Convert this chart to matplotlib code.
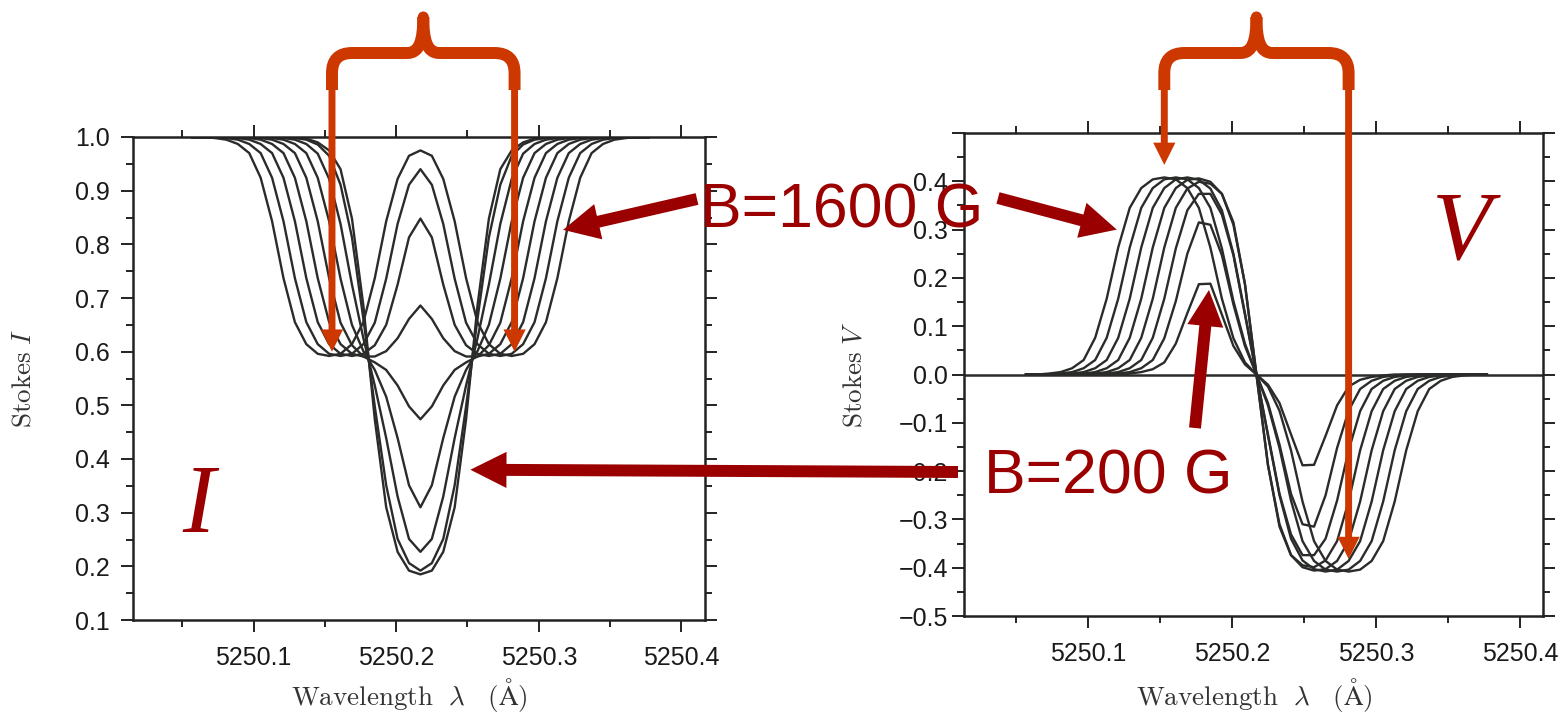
import matplotlib
matplotlib.use('Agg')
import matplotlib.pyplot as plt
from matplotlib.patches import PathPatch, Circle
from matplotlib.path import Path
from matplotlib.ticker import FixedLocator, FixedFormatter

plt.rcParams['mathtext.fontset'] = 'cm'
plt.rcParams['font.family'] = ['Liberation Sans', 'DejaVu Sans']

# wavelength grid (Angstrom) shared by all profiles
wavelength = [5250.057, 5250.065, 5250.073, 5250.081, 5250.089, 5250.097, 5250.105,
              5250.113, 5250.121, 5250.129, 5250.137, 5250.145, 5250.153, 5250.161,
              5250.169, 5250.177, 5250.185, 5250.193, 5250.201, 5250.209, 5250.217,
              5250.225, 5250.233, 5250.241, 5250.249, 5250.257, 5250.265, 5250.273,
              5250.281, 5250.289, 5250.297, 5250.305, 5250.313, 5250.321, 5250.329,
              5250.337, 5250.345, 5250.353, 5250.361, 5250.369, 5250.377]

field_strengths = [0, 200, 400, 600, 800, 1000, 1200, 1400, 1600]

# Stokes I, one list per field strength
i_b0 = [1.0, 1.0, 1.0, 1.0, 1.0, 1.0, 1.0, 1.0, 1.0, 0.999, 0.997, 0.990, 0.975, 0.940,
        0.848, 0.686, 0.474, 0.310, 0.227, 0.192, 0.185, 0.192, 0.227, 0.310, 0.474,
        0.686, 0.848, 0.940, 0.975, 0.990, 0.997, 0.999, 1.0, 1.0, 1.0, 1.0, 1.0, 1.0,
        1.0, 1.0, 1.0]
i_b200 = [1.0, 1.0, 1.0, 1.0, 1.0, 1.0, 1.0, 1.0, 1.0, 0.998, 0.995, 0.986, 0.965, 0.911,
          0.813, 0.661, 0.498, 0.351, 0.251, 0.206, 0.192, 0.206, 0.251, 0.351, 0.498,
          0.661, 0.813, 0.911, 0.965, 0.986, 0.995, 0.998, 1.0, 1.0, 1.0, 1.0, 1.0, 1.0,
          1.0, 1.0, 1.0]
i_b400 = [1.0, 1.0, 1.0, 1.0, 1.0, 1.0, 1.0, 1.0, 0.998, 0.995, 0.987, 0.969, 0.922, 0.838,
          0.725, 0.625, 0.537, 0.439, 0.330, 0.251, 0.227, 0.251, 0.330, 0.439, 0.537,
          0.625, 0.725, 0.838, 0.922, 0.969, 0.987, 0.995, 0.998, 1.0, 1.0, 1.0, 1.0, 1.0,
          1.0, 1.0, 1.0]
i_b600 = [1.0, 1.0, 1.0, 1.0, 1.0, 1.0, 1.0, 0.998, 0.995, 0.987, 0.970, 0.924, 0.843, 0.736,
          0.650, 0.601, 0.566, 0.516, 0.439, 0.351, 0.310, 0.351, 0.439, 0.516, 0.566,
          0.601, 0.650, 0.736, 0.843, 0.924, 0.970, 0.987, 0.995, 0.998, 1.0, 1.0, 1.0,
          1.0, 1.0, 1.0, 1.0]
i_b800 = [1.0, 1.0, 1.0, 1.0, 1.0, 1.0, 0.998, 0.995, 0.987, 0.970, 0.924, 0.843, 0.737, 0.654,
          0.612, 0.591, 0.580, 0.566, 0.537, 0.498, 0.474, 0.498, 0.537, 0.566, 0.580,
          0.591, 0.612, 0.654, 0.737, 0.843, 0.924, 0.970, 0.987, 0.995, 0.998, 1.0, 1.0,
          1.0, 1.0, 1.0, 1.0]
i_b1000 = [1.0, 1.0, 1.0, 1.0, 1.0, 0.998, 0.995, 0.987, 0.970, 0.924, 0.843, 0.737, 0.655,
           0.614, 0.596, 0.591, 0.591, 0.601, 0.625, 0.661, 0.686, 0.661, 0.625, 0.601,
           0.591, 0.591, 0.596, 0.614, 0.655, 0.737, 0.843, 0.924, 0.970, 0.987, 0.995,
           0.998, 1.0, 1.0, 1.0, 1.0, 1.0]
i_b1200 = [1.0, 1.0, 1.0, 1.0, 0.998, 0.995, 0.987, 0.970, 0.924, 0.843, 0.737, 0.655, 0.614,
           0.596, 0.592, 0.596, 0.612, 0.650, 0.725, 0.813, 0.848, 0.813, 0.725, 0.650,
           0.612, 0.596, 0.592, 0.596, 0.614, 0.655, 0.737, 0.843, 0.924, 0.970, 0.987,
           0.995, 0.998, 1.0, 1.0, 1.0, 1.0]
i_b1400 = [1.0, 1.0, 1.0, 0.998, 0.995, 0.987, 0.970, 0.924, 0.843, 0.737, 0.655, 0.614, 0.596,
           0.592, 0.596, 0.614, 0.654, 0.736, 0.838, 0.911, 0.940, 0.911, 0.838, 0.736,
           0.654, 0.614, 0.596, 0.592, 0.596, 0.614, 0.655, 0.737, 0.843, 0.924, 0.970,
           0.987, 0.995, 0.998, 1.0, 1.0, 1.0]
i_b1600 = [1.0, 1.0, 0.998, 0.995, 0.987, 0.970, 0.924, 0.843, 0.737, 0.655, 0.614, 0.596,
           0.592, 0.596, 0.614, 0.655, 0.737, 0.843, 0.922, 0.965, 0.975, 0.965, 0.922,
           0.843, 0.737, 0.655, 0.614, 0.596, 0.592, 0.596, 0.614, 0.655, 0.737, 0.843,
           0.924, 0.970, 0.987, 0.995, 0.998, 1.0, 1.0]

# Stokes V, one list per non-zero field strength
v_b200 = [0.0, 0.0, 0.0, 0.0, 0.0, 0.0, 0.0, 0.0, 0.0, 0.002, 0.005, 0.011, 0.025, 0.064,
          0.127, 0.187, 0.188, 0.124, 0.059, 0.021, 0.0, -0.021, -0.059, -0.124, -0.188,
          -0.187, -0.127, -0.064, -0.025, -0.011, -0.005, -0.002, 0.0, 0.0, 0.0, 0.0, 0.0,
          0.0, 0.0, 0.0, 0.0]
v_b400 = [0.0, 0.0, 0.0, 0.0, 0.0, 0.0, 0.0, 0.0, 0.002, 0.005, 0.013, 0.030, 0.075, 0.152,
          0.250, 0.315, 0.310, 0.247, 0.145, 0.059, 0.0, -0.059, -0.145, -0.247, -0.310,
          -0.315, -0.250, -0.152, -0.075, -0.030, -0.013, -0.005, -0.002, 0.0, 0.0, 0.0,
          0.0, 0.0, 0.0, 0.0, 0.0]
v_b600 = [0.0, 0.0, 0.0, 0.0, 0.0, 0.0, 0.0, 0.002, 0.005, 0.013, 0.030, 0.076, 0.157, 0.261,
          0.340, 0.374, 0.374, 0.331, 0.247, 0.124, 0.0, -0.124, -0.247, -0.331, -0.374,
          -0.374, -0.340, -0.261, -0.157, -0.076, -0.030, -0.013, -0.005, -0.002, 0.0, 0.0,
          0.0, 0.0, 0.0, 0.0, 0.0]
v_b800 = [0.0, 0.0, 0.0, 0.0, 0.0, 0.0, 0.002, 0.005, 0.013, 0.030, 0.076, 0.157, 0.263, 0.345,
          0.385, 0.399, 0.395, 0.374, 0.310, 0.188, 0.0, -0.188, -0.310, -0.374, -0.395,
          -0.399, -0.385, -0.345, -0.263, -0.157, -0.076, -0.030, -0.013, -0.005, -0.002,
          0.0, 0.0, 0.0, 0.0, 0.0, 0.0]
v_b1000 = [0.0, 0.0, 0.0, 0.0, 0.0, 0.002, 0.005, 0.013, 0.030, 0.076, 0.157, 0.263, 0.345,
           0.386, 0.403, 0.406, 0.399, 0.374, 0.315, 0.187, 0.0, -0.187, -0.315, -0.374,
           -0.399, -0.406, -0.403, -0.386, -0.345, -0.263, -0.157, -0.076, -0.030, -0.013,
           -0.005, -0.002, 0.0, 0.0, 0.0, 0.0, 0.0]
v_b1200 = [0.0, 0.0, 0.0, 0.0, 0.002, 0.005, 0.013, 0.030, 0.076, 0.157, 0.263, 0.345, 0.386,
           0.404, 0.408, 0.403, 0.385, 0.340, 0.250, 0.127, 0.0, -0.127, -0.250, -0.340,
           -0.385, -0.403, -0.408, -0.404, -0.386, -0.345, -0.263, -0.157, -0.076, -0.030,
           -0.013, -0.005, -0.002, 0.0, 0.0, 0.0, 0.0]
v_b1400 = [0.0, 0.0, 0.0, 0.002, 0.005, 0.013, 0.030, 0.076, 0.157, 0.263, 0.345, 0.386, 0.404,
           0.408, 0.404, 0.386, 0.345, 0.261, 0.152, 0.064, 0.0, -0.064, -0.152, -0.261,
           -0.345, -0.386, -0.404, -0.408, -0.404, -0.386, -0.345, -0.263, -0.157, -0.076,
           -0.030, -0.013, -0.005, -0.002, 0.0, 0.0, 0.0]
v_b1600 = [0.0, 0.0, 0.002, 0.005, 0.013, 0.030, 0.076, 0.157, 0.263, 0.345, 0.386, 0.404,
           0.408, 0.404, 0.386, 0.345, 0.263, 0.157, 0.075, 0.025, 0.0, -0.025, -0.075,
           -0.157, -0.263, -0.345, -0.386, -0.404, -0.408, -0.404, -0.386, -0.345, -0.263,
           -0.157, -0.076, -0.030, -0.013, -0.005, -0.002, 0.0, 0.0]

stokes_i = [i_b0, i_b200, i_b400, i_b600, i_b800, i_b1000, i_b1200, i_b1400, i_b1600]
stokes_v = [v_b200, v_b400, v_b600, v_b800, v_b1000, v_b1200, v_b1400, v_b1600]

# sigma-component positions for the strongest field
sigma_blue = 5250.155
sigma_red = 5250.283

x_major = [5250.1, 5250.2, 5250.3, 5250.4]
x_minor = [5250.05, 5250.15, 5250.25, 5250.35]
i_major = [0.1, 0.2, 0.3, 0.4, 0.5, 0.6, 0.7, 0.8, 0.9, 1.0]
i_minor = [0.15, 0.25, 0.35, 0.45, 0.55, 0.65, 0.75, 0.85, 0.95]
v_major = [-0.5, -0.4, -0.3, -0.2, -0.1, 0.0, 0.1, 0.2, 0.3, 0.4, 0.5]
v_minor = [-0.45, -0.35, -0.25, -0.15, -0.05, 0.05, 0.15, 0.25, 0.35, 0.45]

W, H = 1565, 714
curve_col = '#2a2c2a'
orange = '#cd3700'
dark_red = '#9b0000'

fig = plt.figure(figsize=(W / 100, H / 100), dpi=100)
fig.patch.set_facecolor('white')

ax_i = fig.add_axes([133 / W, 1 - 620 / H, 572 / W, 483 / H])
ax_v = fig.add_axes([964 / W, 1 - 616 / H, 579 / W, 483 / H])

for prof in stokes_i:
    ax_i.plot(wavelength, prof, color=curve_col, lw=1.7)
ax_v.axhline(0.0, color=curve_col, lw=1.8)
for prof in stokes_v:
    ax_v.plot(wavelength, prof, color=curve_col, lw=1.7)

ax_i.set_xlim(5250.0155, 5250.4165)
ax_i.set_ylim(0.1, 1.0)
ax_v.set_xlim(5250.0139, 5250.416)
ax_v.set_ylim(-0.5, 0.5)


def fmt(vals):
    return ['%.1f' % v for v in vals]


for ax, ymaj, ymin in ((ax_i, i_major, i_minor), (ax_v, v_major, v_minor)):
    ax.xaxis.set_major_locator(FixedLocator(x_major))
    ax.xaxis.set_major_formatter(FixedFormatter(fmt(x_major)))
    ax.xaxis.set_minor_locator(FixedLocator(x_minor))
    ax.yaxis.set_major_locator(FixedLocator(ymaj))
    ax.yaxis.set_minor_locator(FixedLocator(ymin))
    ax.tick_params(which='both', direction='out', top=True, right=True,
                   width=1.4, color='#222222', labelsize=18, labelcolor='#1a1a1a')
    ax.tick_params(which='major', length=8.6)
    ax.tick_params(which='minor', length=5)
    ax.tick_params(axis='x', pad=10)
    for sp in ax.spines.values():
        sp.set_linewidth(1.8)
        sp.set_color('#222222')

ax_i.yaxis.set_major_formatter(FixedFormatter(fmt(i_major)))
ax_i.tick_params(axis='y', pad=8)
v_labels = ['\u2212%.1f' % -v if v < 0 else '%.1f' % v for v in v_major]
v_labels[-1] = ''
ax_v.yaxis.set_major_formatter(FixedFormatter(v_labels))
ax_v.tick_params(axis='y', pad=3)

label_kw = dict(fontsize=19.5, color='#333333')
xlab = r'$\mathrm{Wavelength}\ \ \lambda\ \ \ (\mathrm{\AA})$'
ax_i.set_xlabel(xlab, va='baseline', **label_kw)
ax_v.set_xlabel(xlab, va='baseline', **label_kw)
ax_i.set_ylabel(r'$\mathrm{Stokes}\ I$', **label_kw)
ax_v.set_ylabel(r'$\mathrm{Stokes}\ V$', **label_kw)
ax_i.xaxis.set_label_coords(0.483, -(705 - 620) / 483)
ax_v.xaxis.set_label_coords(0.502, -(705 - 616) / 483)
ax_i.yaxis.set_label_coords(-0.168, 0.5)
ax_v.yaxis.set_label_coords(-0.1675, 0.5)

# overlay in pixel units (y downwards) for the annotations
ov = fig.add_axes([0, 0, 1, 1], zorder=10)
ov.set_xlim(0, W)
ov.set_ylim(H, 0)
ov.axis('off')
ov.patch.set_alpha(0)


def px(ax, x, y):
    dx, dy = ax.transData.transform((x, y))
    return dx, H - dy


def brace(xl, xr, color):
    xc = (xl + xr) / 2
    y_end, y_bar, y_tip, r = 90, 53, 17, 20
    for x0, s in ((xl, 1), (xr, -1)):
        verts = [(x0, y_end), (x0, y_bar + r), (x0, y_bar), (x0 + s * r, y_bar),
                 (xc - s * 16, y_bar), (xc - s * 4, y_bar), (xc, y_bar - 12), (xc, y_tip)]
        codes = [Path.MOVETO, Path.LINETO, Path.CURVE3, Path.CURVE3,
                 Path.LINETO, Path.CURVE4, Path.CURVE4, Path.CURVE4]
        ov.add_patch(PathPatch(Path(verts, codes), fill=False, ec=color,
                               lw=8.6, capstyle='butt', joinstyle='round'))
    ov.add_patch(Circle((xc, y_tip), 5.5, color=color, lw=0))


def down_arrow(ax, x, y):
    x0, _ = px(ax, x, y)
    ov.annotate('', xy=(x, y), xycoords=ax.transData, xytext=(x0, 90),
                textcoords=ov.transData,
                arrowprops=dict(arrowstyle='simple,head_length=16,head_width=16,tail_width=5',
                                mutation_scale=1, color=orange, lw=0,
                                shrinkA=0, shrinkB=0))
    return x0


# brace + arrows marking the sigma components (Stokes I)
xl = down_arrow(ax_i, sigma_blue, 0.60)
xr = down_arrow(ax_i, sigma_red, 0.60)
brace(xl, xr, orange)

# brace + arrows marking the sigma components (Stokes V)
xl = down_arrow(ax_v, sigma_blue - 0.002, 0.434)
xr = down_arrow(ax_v, sigma_red - 0.002, -0.382)
brace(xl, xr, orange)

big_arrow = dict(arrowstyle='simple,head_length=26,head_width=26,tail_width=8.6',
                 mutation_scale=1, color=dark_red, lw=0, shrinkA=0, shrinkB=0)

ov.annotate('', xy=(5250.317, 0.827), xycoords=ax_i.transData,
            xytext=(697, 199), textcoords=ov.transData, arrowprops=big_arrow)
ov.annotate('', xy=(5250.120, 0.300), xycoords=ax_v.transData,
            xytext=(998, 198), textcoords=ov.transData, arrowprops=big_arrow)
ov.annotate('', xy=(5250.184, 0.175), xycoords=ax_v.transData,
            xytext=(1195, 428), textcoords=ov.transData, arrowprops=big_arrow)
ov.annotate('', xy=(5250.252, 0.380), xycoords=ax_i.transData,
            xytext=(958, 472), textcoords=ov.transData, arrowprops=big_arrow)

ov.text(842, 227, 'B=%d G' % field_strengths[-1], fontsize=45, color=dark_red,
        ha='center', va='baseline', family='Liberation Sans')
ov.text(1108, 493, 'B=%d G' % field_strengths[1], fontsize=45, color=dark_red,
        ha='center', va='baseline', family='Liberation Sans')

ov.text(199, 532, 'I', fontsize=70, color=dark_red, ha='center', va='baseline',
        family='Liberation Serif', style='italic')
ov.text(1462, 258, 'V', fontsize=70, color=dark_red, ha='center', va='baseline',
        family='Liberation Serif', style='italic')

fig.savefig('out.png', dpi=100, facecolor='white')
